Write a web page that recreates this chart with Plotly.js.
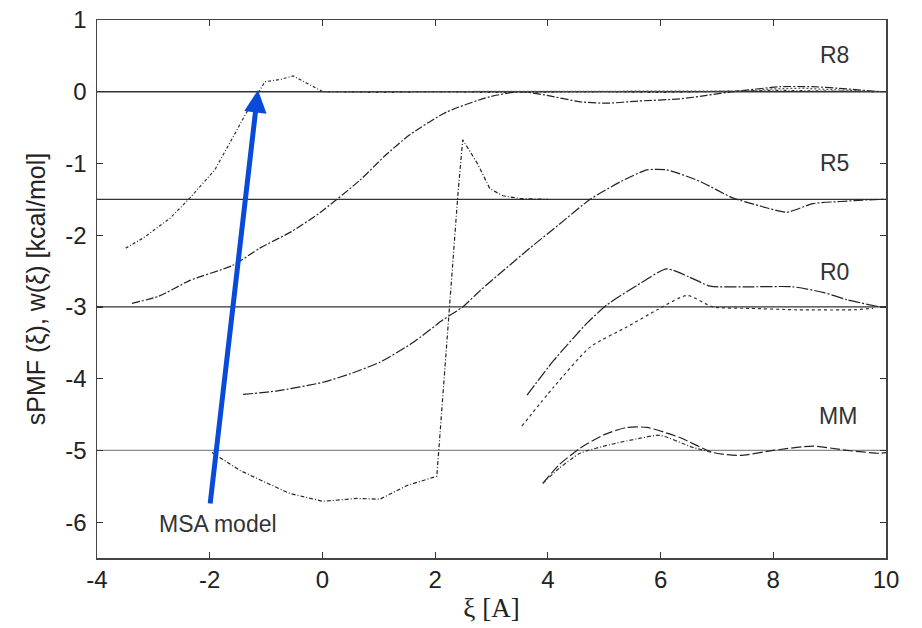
<!DOCTYPE html>
<html>
<head>
<meta charset="utf-8">
<script src="https://cdn.plot.ly/plotly-3.0.1.min.js"></script>
<style>html,body{margin:0;padding:0;background:#fff}#chart{width:922px;height:628px}</style>
</head>
<body>
<div id="chart"></div>
<script>
// Baselines (reference levels)
const baselineLevels = [0, -1.5, -3, -5];
const baselineColors = ['#333333', '#333333', '#333333', '#888888'];
const xRange = [-4, 10];
const xTicks = [-4, -2, 0, 2, 4, 6, 8, 10];
const xTickText = ['-4', '-2', '0', '2', '4', '6', '8', '10'];
const yTicks = [1, 0, -1, -2, -3, -4, -5, -6];
const yTickText = ['1', '0', '-1', '-2', '-3', '-4', '-5', '-6'];

// R8 group
const r8MsaX = [-3.49, -3.18, -2.70, -2.35, -1.91, -1.59, -1.29, -1.02, -0.75, -0.52, -0.2, 0.01, 1, 2, 3, 4, 5, 6, 7, 8, 9, 10];
const r8MsaY = [-2.18, -2.04, -1.76, -1.48, -1.09, -0.63, -0.21, 0.14, 0.17, 0.22, 0.08, 0.0, -0.01, 0.0, -0.01, 0.0, 0.0, -0.01, 0.0, 0.02, 0.01, 0.0];
const r8CurveX = [-3.38, -2.9, -2.35, -1.59, -1.11, -0.55, -0.05, 0.67, 1.1, 1.55, 2.21, 2.97, 3.51, 3.98, 4.57, 5.05, 5.6, 6.34, 6.82, 7.28, 8.12, 8.70, 9.3, 9.89];
const r8CurveY = [-2.95, -2.85, -2.63, -2.42, -2.18, -1.95, -1.69, -1.23, -0.9, -0.60, -0.28, -0.07, 0.0, -0.05, -0.14, -0.16, -0.13, -0.10, -0.05, 0.0, 0.07, 0.07, 0.04, 0.0];
const r8DotX = [0, 1, 2, 3, 4, 5, 6, 7, 7.5, 8, 8.5, 9, 9.5, 10];
const r8DotY = [0, 0, 0, 0, 0.01, 0, 0, 0, 0.01, 0.04, 0.05, 0.03, 0.01, 0];

// R5 group
const r5CurveX = [-1.41, -0.8, 0.01, 0.5, 1.02, 1.6, 2.14, 2.49, 2.80, 3.2, 3.68, 4.2, 4.75, 5.3, 5.76, 6.11, 6.7, 7.28, 7.8, 8.24, 8.70, 9.2, 9.59, 10];
const r5CurveY = [-4.22, -4.17, -4.05, -3.93, -3.77, -3.50, -3.18, -3.0, -2.77, -2.50, -2.18, -1.85, -1.50, -1.25, -1.09, -1.09, -1.25, -1.48, -1.60, -1.68, -1.56, -1.53, -1.51, -1.50];
const msaX = [-1.96, -1.46, -1.0, -0.58, 0.01, 0.61, 1.02, 1.50, 2.03, 2.26, 2.41, 2.49, 2.75, 2.97, 3.2, 3.51, 4.0];
const msaY = [-5.03, -5.28, -5.45, -5.60, -5.71, -5.67, -5.68, -5.49, -5.36, -2.91, -1.37, -0.67, -1.0, -1.35, -1.45, -1.49, -1.50];

// R0 group
const r0SolidX = [3.63, 4.1, 4.69, 5.05, 5.58, 6.11, 6.5, 6.88, 7.5, 8.35, 8.9, 9.31, 9.89];
const r0SolidY = [-4.23, -3.75, -3.23, -2.97, -2.70, -2.47, -2.58, -2.71, -2.72, -2.72, -2.80, -2.90, -3.0];
const r0DotX = [3.54, 4.1, 4.75, 5.4, 5.94, 6.47, 6.93, 7.6, 8.42, 9.41, 9.77];
const r0DotY = [-4.66, -4.12, -3.56, -3.28, -3.04, -2.84, -3.0, -3.02, -3.04, -3.04, -3.02];

// MM group
const mmDashX = [3.91, 4.2, 4.57, 5.0, 5.40, 5.76, 6.34, 6.93, 7.41, 8.0, 8.70, 9.31, 9.89, 10];
const mmDashY = [-5.46, -5.2, -4.97, -4.78, -4.68, -4.68, -4.82, -5.03, -5.07, -5.00, -4.94, -5.00, -5.04, -5.03];
const mmDotX = [3.91, 4.2, 4.57, 5.1, 5.64, 5.99, 6.58, 6.93];
const mmDotY = [-5.46, -5.25, -5.04, -4.92, -4.83, -4.79, -4.96, -5.03];

const labelNames = ['R8', 'R5', 'R0', 'MM'];

const traces = [];
baselineLevels.forEach((lv, i) => {
  traces.push({x: xRange, y: [lv, lv], mode: 'lines', line: {color: baselineColors[i], width: 1.3}, hoverinfo: 'skip'});
});
function add(x, y, dash, color, smooth) {
  const line = {color: color || '#222', width: 1.2, dash: dash};
  if (smooth) { line.shape = 'spline'; line.smoothing = 0.6; }
  traces.push({x: x, y: y, mode: 'lines', line: line, hoverinfo: 'skip'});
}
add(r8MsaX, r8MsaY, '3px,2px,1px,2px', '#333', false);
add(r8CurveX, r8CurveY, '8px,2px,2px,2px', '#222', true);
add(r8DotX, r8DotY, '2px,2px', '#555', false);
add(r5CurveX, r5CurveY, '10px,2px,2px,2px', '#222', true);
add(msaX, msaY, '4px,2px,1px,2px', '#222', false);
add(r0SolidX, r0SolidY, '12px,2px,2px,2px', '#222', true);
add(r0DotX, r0DotY, '3px,3px', '#333', true);
add(mmDashX, mmDashY, '10px,3px', '#222', true);
add(mmDotX, mmDotY, '4px,2px,1px,2px', '#333', true);

const labelPos = [[9.08, 0.51], [9.08, -0.99], [9.08, -2.51], [9.15, -4.52]];
const annotations = labelNames.map((t, i) => ({
  x: labelPos[i][0], y: labelPos[i][1], xref: 'x', yref: 'y', text: t, showarrow: false,
  font: {family: 'Liberation Sans, Arial, sans-serif', size: 23, color: '#333'}
}));
annotations.push({
  x: -1.143, y: 0.024, ax: -1.995, ay: -5.76, axref: 'x', ayref: 'y', xref: 'x', yref: 'y',
  text: '', showarrow: true, arrowhead: 2, arrowsize: 0.9, arrowwidth: 5, arrowcolor: '#0a4ad8', standoff: 0
});
annotations.push({
  x: -1.85, y: -6.02, xref: 'x', yref: 'y', text: 'MSA model', showarrow: false,
  font: {family: 'Liberation Sans, Arial, sans-serif', size: 23, color: '#333'}
});

const axisCommon = {
  showgrid: false, zeroline: false, showline: true, linecolor: '#444', linewidth: 1.5, mirror: 'ticks',
  ticks: 'inside', ticklen: 6, tickcolor: '#333', tickwidth: 1.2,
  tickfont: {family: 'Liberation Sans, Arial, sans-serif', size: 24, color: '#222'}
};

const layout = {
  width: 922, height: 628,
  margin: {l: 97, r: 36, t: 20, b: 70},
  paper_bgcolor: '#fff', plot_bgcolor: '#fff',
  showlegend: false,
  xaxis: Object.assign({}, axisCommon, {range: xRange, tickvals: xTicks, ticktext: xTickText, ticklabelstandoff: 0,
    title: {text: 'ξ [A]', font: {family: 'Liberation Serif, Times New Roman, serif', size: 27, color: '#222'}, standoff: 6}}),
  yaxis: Object.assign({}, axisCommon, {range: [-6.5, 1], tickvals: yTicks, ticktext: yTickText, ticklabelstandoff: 4,
    title: {text: 'sPMF (ξ), w(ξ) [kcal/mol]', font: {family: 'Liberation Sans, Arial, sans-serif', size: 25, color: '#222'}, standoff: 12}}),
  annotations: annotations
};

Plotly.newPlot('chart', traces, layout, {staticPlot: true});
</script>
</body>
</html>
